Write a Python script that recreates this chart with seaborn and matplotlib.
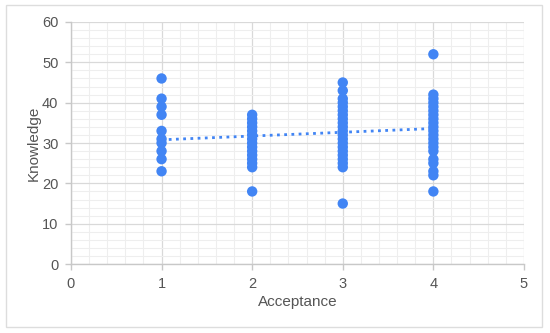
import matplotlib
matplotlib.use("Agg")
import matplotlib.pyplot as plt
import seaborn as sns
import pandas as pd
from matplotlib.ticker import MultipleLocator
from matplotlib.patches import Rectangle

# Data
acc1 = [46, 41, 39, 37, 33, 31, 30, 28, 26, 23]
acc2 = [37, 36, 35, 34, 33, 32, 31, 30, 29, 28, 27, 26, 25, 24, 18]
acc3 = [45, 43, 41, 40, 39, 38, 37, 36, 35, 34, 33, 32, 31, 30, 29, 28, 27, 26, 25, 24, 15]
acc4 = [52, 42, 41, 40, 39, 38, 37, 36, 35, 34, 33, 32, 31, 30, 29, 28, 26, 25, 23, 22, 18]
acceptance_levels = [1, 2, 3, 4]
trend_x = [1, 4]
trend_y = [30.8, 33.6]
x_ticks = [0, 1, 2, 3, 4, 5]
y_ticks = [0, 10, 20, 30, 40, 50, 60]

groups = [acc1, acc2, acc3, acc4]
df = pd.DataFrame({
    "Acceptance": [a for a, g in zip(acceptance_levels, groups) for _ in g],
    "Knowledge": [v for g in groups for v in g],
})
trend = pd.DataFrame({"Acceptance": trend_x, "Knowledge": trend_y})

sns.set_theme(style="white")
plt.rcParams["font.family"] = ["Liberation Sans", "DejaVu Sans"]

blue = "#4285F4"
fig = plt.figure(figsize=(5.5, 3.33), dpi=100)
ax = fig.add_axes([0.129, 0.207, 0.8237, 0.727])

ax.set_xlim(0, 5)
ax.set_ylim(0, 60)
ax.set_xticks(x_ticks)
ax.set_yticks(y_ticks)
ax.xaxis.set_minor_locator(MultipleLocator(0.2))
ax.yaxis.set_minor_locator(MultipleLocator(2))
ax.grid(which="major", color="#d9d9d9", linewidth=0.9)
ax.grid(which="minor", color="#eeeeee", linewidth=0.8)
ax.set_axisbelow(True)

sns.lineplot(data=trend, x="Acceptance", y="Knowledge", ax=ax, color=blue,
             linewidth=2, linestyle=(0, (1, 1.6)), zorder=2)
sns.scatterplot(data=df, x="Acceptance", y="Knowledge", ax=ax, color=blue,
                s=56, edgecolor="none", linewidth=0, zorder=3, clip_on=False)

for s in ["top", "right"]:
    ax.spines[s].set_visible(False)
for s in ["left", "bottom"]:
    ax.spines[s].set_color("#c8c8c8")
    ax.spines[s].set_linewidth(1)

ax.tick_params(axis="both", which="major", length=4, width=1, color="#c8c8c8",
               labelsize=10.5, labelcolor="#555555", pad=5, direction="out",
               bottom=True, left=True)
ax.tick_params(axis="both", which="minor", length=0)

ax.set_xlabel("Acceptance", fontsize=11, color="#555555", labelpad=3)
ax.set_ylabel("Knowledge", fontsize=11, color="#555555", labelpad=1)

fig.patches.append(Rectangle((6 / 550, 1 - 327 / 333), 536 / 550, 322 / 333,
                             transform=fig.transFigure, fill=False,
                             edgecolor="#dddddd", linewidth=1))

fig.savefig("out.png", dpi=100)
